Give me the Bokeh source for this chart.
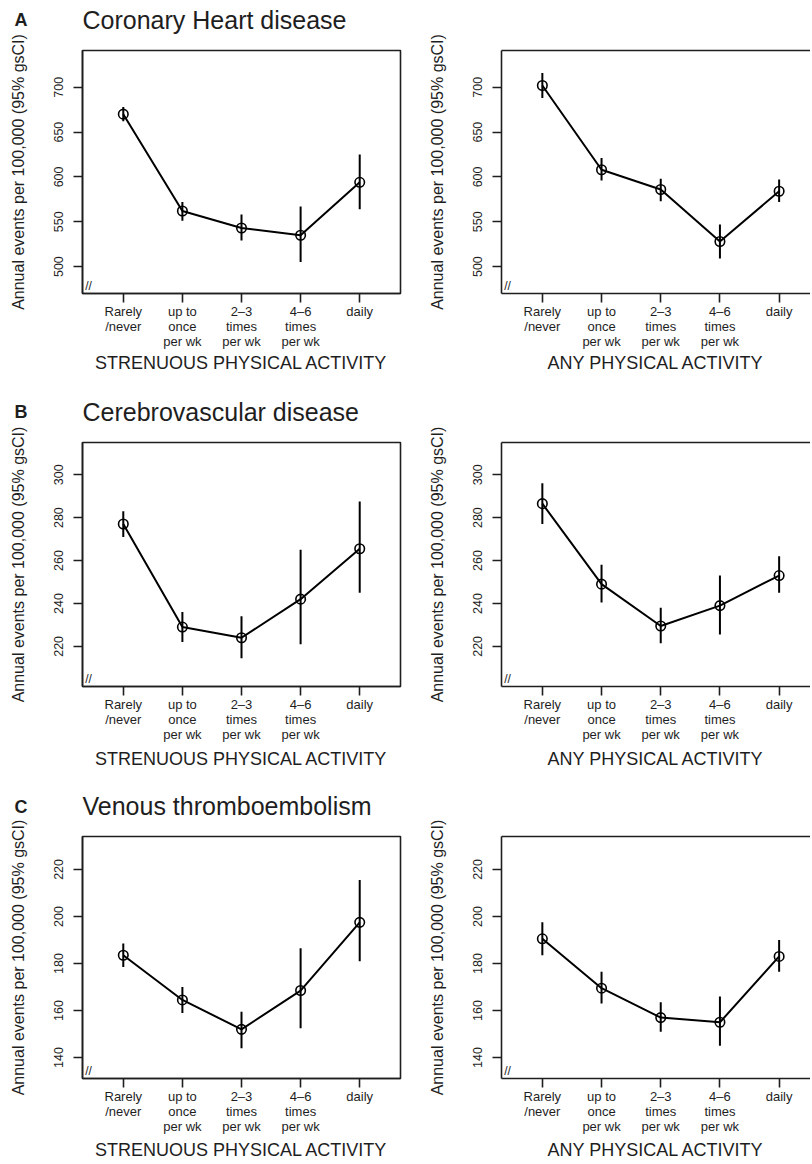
from bokeh.plotting import figure
from bokeh.layouts import column, row
from bokeh.models import FixedTicker, Range1d, Label, LinearAxis
from bokeh.embed import file_html
from bokeh.resources import INLINE

# ---------------- data ----------------
categories = ["Rarely\n/never", "up to\nonce\nper wk", "2\u20133\ntimes\nper wk", "4\u20136\ntimes\nper wk", "daily"]
positions = [1, 2, 3, 4, 5]

chd_str_est = [670, 562, 543, 535, 594]
chd_str_lo = [662, 551, 529, 505, 564]
chd_str_hi = [678, 572, 558, 567, 625]

chd_any_est = [702, 608, 586, 528, 584]
chd_any_lo = [688, 596, 573, 509, 572]
chd_any_hi = [716, 621, 598, 547, 597]

cbv_str_est = [277, 229, 224, 242, 265.5]
cbv_str_lo = [271, 222, 214.5, 221, 245]
cbv_str_hi = [283, 236, 234, 265, 287.5]

cbv_any_est = [286.5, 249, 229.5, 239, 253]
cbv_any_lo = [277, 240.5, 221.5, 225.5, 245]
cbv_any_hi = [296, 258, 238, 253, 262]

vte_str_est = [183.5, 164.5, 152, 168.5, 197.5]
vte_str_lo = [178.5, 159, 144, 152.5, 181]
vte_str_hi = [188.5, 170, 159.5, 186.5, 215.5]

vte_any_est = [190.5, 169.5, 157, 155, 183]
vte_any_lo = [183.5, 163, 151, 145, 176.5]
vte_any_hi = [197.5, 176.5, 163.5, 166, 190]

chd_ticks = [500, 550, 600, 650, 700]
cbv_ticks = [220, 240, 260, 280, 300]
vte_ticks = [140, 160, 180, 200, 220]

row_titles = ["Coronary Heart disease", "Cerebrovascular disease", "Venous thromboembolism"]
row_letters = ["A", "B", "C"]
xlabels = ["STRENUOUS PHYSICAL ACTIVITY", "ANY PHYSICAL ACTIVITY"]
ylabel = "Annual events per 100,000 (95% gsCI)"

FONT = "Liberation Sans"
INK = "#1e1e1e"
TOTAL_W = 810


def make_header(letter, title, height, letter_base, title_base):
    h = figure(width=TOTAL_W, height=height, output_backend="svg", toolbar_location=None,
               title=None,
               x_range=Range1d(0, TOTAL_W), y_range=Range1d(height, 0),
               x_axis_location=None, y_axis_location=None,
               min_border=0, min_border_left=0, min_border_right=0,
               min_border_top=0, min_border_bottom=0,
               background_fill_color="white", border_fill_color="white")
    h.outline_line_color = None
    h.grid.visible = False
    # text_baseline "middle": centre of the text box sits ~0.35 em above the baseline
    h.add_layout(Label(x=14, y=letter_base - 0.35 * 18, text=letter, text_font=FONT,
                       text_font_size="18px", text_font_style="bold", text_color=INK,
                       text_baseline="middle", text_line_height=1.0))
    h.add_layout(Label(x=82, y=title_base - 0.35 * 25, text=title, text_font=FONT,
                       text_font_size="25px", text_color=INK, text_baseline="middle",
                       text_line_height=1.0))
    return h


def make_panel(est, lo, hi, yrange, yticks, xlabel, left, height, b_top, b_bottom, xl_standoff):
    if left:
        width, b_left, b_right, xend = 418, 82, 18, 5.69
    else:
        width, b_left, b_right, xend = TOTAL_W - 418, 83, 0, 5.53
    p = figure(width=width, height=height, output_backend="svg", toolbar_location=None,
               title=None,
               x_range=Range1d(0.31, xend), y_range=Range1d(*yrange),
               min_border_left=b_left, min_border_right=b_right,
               min_border_top=b_top, min_border_bottom=b_bottom,
               background_fill_color="white", border_fill_color="white")
    p.grid.visible = False
    if left:
        p.outline_line_color = INK
        p.outline_line_width = 1.6
    else:
        p.outline_line_color = None
        top_ax = LinearAxis(ticker=FixedTicker(ticks=[]), major_label_text_font_size="0px",
                            major_tick_line_color=None, minor_tick_line_color=None,
                            axis_line_color=INK, axis_line_width=1.6)
        p.add_layout(top_ax, "above")

    xa = p.below[0]
    xa.ticker = FixedTicker(ticks=positions)
    xa.major_label_overrides = {pos: lab for pos, lab in zip(positions, categories)}
    xa.major_tick_out = 9
    xa.major_tick_in = 0
    xa.minor_tick_line_color = None
    xa.major_tick_line_width = 1.6
    xa.major_tick_line_color = INK
    xa.axis_line_color = INK
    xa.axis_line_width = 1.6
    xa.major_label_text_font = FONT
    xa.major_label_text_font_size = "13px"
    xa.major_label_text_line_height = 1.03
    xa.major_label_text_color = INK
    xa.major_label_standoff = 1
    xa.axis_label = xlabel
    xa.axis_label_text_font = FONT
    xa.axis_label_text_font_size = "18px"
    xa.axis_label_text_font_style = "normal"
    xa.axis_label_text_color = INK
    xa.axis_label_standoff = xl_standoff

    ya = p.left[0]
    ya.ticker = FixedTicker(ticks=yticks)
    ya.major_tick_out = 9
    ya.major_tick_in = 0
    ya.minor_tick_line_color = None
    ya.major_tick_line_width = 1.6
    ya.major_tick_line_color = INK
    ya.axis_line_color = INK
    ya.axis_line_width = 1.6
    ya.major_label_orientation = "vertical"
    ya.major_label_text_font = FONT
    ya.major_label_text_font_size = "12.5px"
    ya.major_label_text_color = INK
    ya.major_label_standoff = 10
    ya.axis_label = ylabel
    ya.axis_label_text_font = FONT
    ya.axis_label_text_font_size = "16px"
    ya.axis_label_text_font_style = "normal"
    ya.axis_label_text_color = INK
    ya.axis_label_standoff = 25

    p.line(positions, est, line_color="black", line_width=2)
    p.segment(x0=positions, y0=lo, x1=positions, y1=hi, line_color="black", line_width=2)
    p.scatter(positions, est, marker="circle", size=9.5, fill_alpha=0,
              line_color="black", line_width=1.6)

    # axis-break mark at the bottom of the y axis
    p.add_layout(Label(x=6, y=8, x_units="screen", y_units="screen", text="//",
                       text_font=FONT, text_font_size="12px", text_color=INK,
                       text_align="center", text_baseline="middle"))
    return p


# header height, letter baseline, title baseline, panel height, border top, border bottom, x-title standoff
rows_spec = [
    (chd_str_est, chd_str_lo, chd_str_hi, chd_any_est, chd_any_lo, chd_any_hi, (470, 741), chd_ticks,
     34, 26, 28, 346, 16, 87, 1),
    (cbv_str_est, cbv_str_lo, cbv_str_hi, cbv_any_est, cbv_any_lo, cbv_any_hi, (201.3, 315), cbv_ticks,
     46, 38, 40.5, 350, 16, 90, 4),
    (vte_str_est, vte_str_lo, vte_str_hi, vte_any_est, vte_any_lo, vte_any_hi, (131.1, 234), vte_ticks,
     44, 37, 38, 343, 16, 84, 3),
]

items = []
for i, (se, sl, sh, ae, al, ah, yr, yt, hh, lb, tb, h, bt, bb, xs) in enumerate(rows_spec):
    items.append(make_header(row_letters[i], row_titles[i], hh, lb, tb))
    pl = make_panel(se, sl, sh, yr, yt, xlabels[0], True, h, bt, bb, xs)
    pr = make_panel(ae, al, ah, yr, yt, xlabels[1], False, h, bt, bb, xs)
    items.append(row(pl, pr))

layout = column(*items)
open("out.html", "w").write(file_html(layout, INLINE))
